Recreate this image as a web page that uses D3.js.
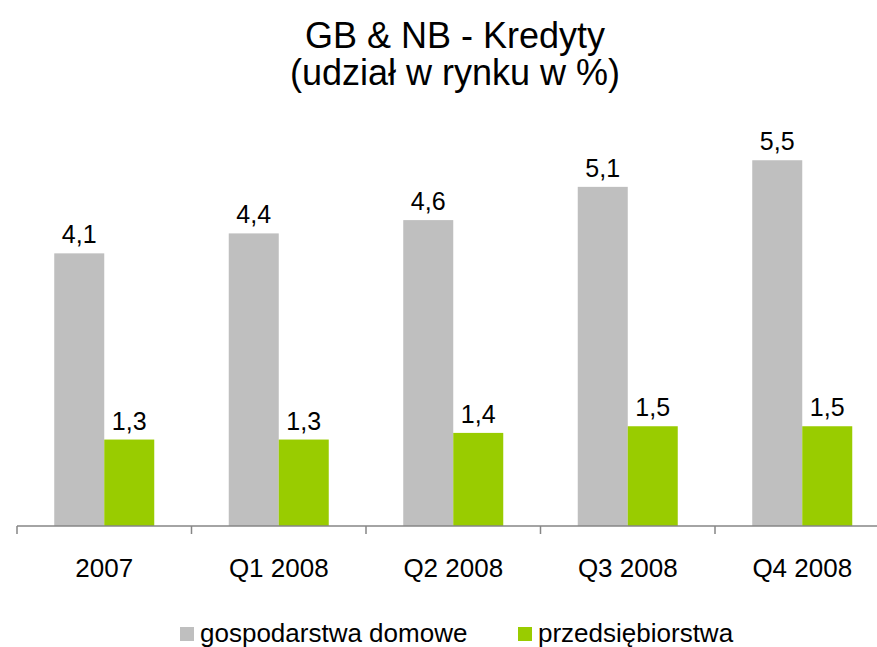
<!DOCTYPE html>
<html>
<head>
	<meta charset="utf-8" />
	<script src="https://d3js.org/d3.v7.min.js"></script>
	<title>GB & NB - Kredyty</title>
	<style>
		body { margin: 0; background: #fff; }
		text { font-family: "Liberation Sans", Arial, sans-serif; fill: #000; }
	</style>
</head>
<body>
<div id="my_dataviz"></div>
<script>

	// data
	var categories = ["2007", "Q1 2008", "Q2 2008", "Q3 2008", "Q4 2008"];
	var seriesNames = ["gospodarstwa domowe", "przedsiębiorstwa"];
	var households = [4.1, 4.4, 4.6, 5.1, 5.5];
	var companies = [1.3, 1.3, 1.4, 1.5, 1.5];
	var titleLines = ["GB & NB - Kredyty", "(udział w rynku w %)"];

	var colors = ["#bfbfbf", "#99cc00"];

	var width = 877, height = 647;

	var svg = d3.select("#my_dataviz")
		.append("svg")
		.attr("width", width)
		.attr("height", height);

	// title
	svg.selectAll("text.title")
		.data(titleLines).enter()
		.append("text")
		.attr("class", "title")
		.attr("x", 455)
		.attr("y", function (d, i) { return 48 + i * 37; })
		.attr("text-anchor", "middle")
		.style("font-size", "36px")
		.text(function (d) { return d; });

	// scales
	var x = d3.scaleBand()
		.domain(categories)
		.range([17, 889.5])
		.padding(0);

	var bw = x.bandwidth();
	var x1 = d3.scaleBand()
		.domain(seriesNames)
		.range([bw / 2 - 50, bw / 2 + 50])
		.padding(0);

	var y = d3.scaleLinear()
		.domain([0, 6])
		.range([526, 526 - 6 * 66.5]);

	var rows = categories.map(function (c, i) {
		return { cat: c, values: [households[i], companies[i]] };
	});

	// bars
	var groups = svg.selectAll("g.group")
		.data(rows).enter()
		.append("g")
		.attr("class", "group")
		.attr("transform", function (d) { return "translate(" + x(d.cat) + ",0)"; });

	groups.selectAll("rect")
		.data(function (d) { return d.values.map(function (v, j) { return { name: seriesNames[j], v: v, j: j }; }); })
		.enter()
		.append("rect")
		.attr("x", function (d) { return x1(d.name); })
		.attr("width", x1.bandwidth())
		.attr("y", function (d) { return y(d.v); })
		.attr("height", function (d) { return y(0) - y(d.v); })
		.style("fill", function (d) { return colors[d.j]; });

	// value labels
	groups.selectAll("text.val")
		.data(function (d) { return d.values.map(function (v, j) { return { name: seriesNames[j], v: v }; }); })
		.enter()
		.append("text")
		.attr("class", "val")
		.attr("x", function (d) { return x1(d.name) + x1.bandwidth() / 2; })
		.attr("y", function (d) { return y(d.v) - 10; })
		.attr("text-anchor", "middle")
		.style("font-size", "25px")
		.text(function (d) { return d3.format(".1f")(d.v).replace(".", ","); });

	// x axis: line across the bottom, ticks at band edges
	var axis = svg.append("g").attr("class", "axis");

	axis.append("line")
		.attr("x1", x.range()[0])
		.attr("x2", width)
		.attr("y1", y(0))
		.attr("y2", y(0))
		.style("stroke", "#868686")
		.style("stroke-width", 1.5);

	axis.selectAll("line.tick")
		.data(categories).enter()
		.append("line")
		.attr("class", "tick")
		.attr("x1", function (d) { return x(d); })
		.attr("x2", function (d) { return x(d); })
		.attr("y1", y(0))
		.attr("y2", y(0) + 8)
		.style("stroke", "#868686")
		.style("stroke-width", 1.5);

	axis.selectAll("text")
		.data(categories).enter()
		.append("text")
		.attr("x", function (d) { return x(d) + bw / 2; })
		.attr("y", 577)
		.attr("text-anchor", "middle")
		.style("font-size", "26px")
		.text(function (d) { return d; });

	// legend
	var legendX = [180, 518];
	var legend = svg.selectAll("g.legend")
		.data(seriesNames).enter()
		.append("g")
		.attr("class", "legend")
		.attr("transform", function (d, i) { return "translate(" + legendX[i] + ",627)"; });

	legend.append("rect")
		.attr("width", 14)
		.attr("height", 14)
		.style("fill", function (d, i) { return colors[i]; });

	legend.append("text")
		.attr("x", 20)
		.attr("y", 15)
		.style("font-size", "26px")
		.text(function (d) { return d; });

</script>
</body>
</html>
